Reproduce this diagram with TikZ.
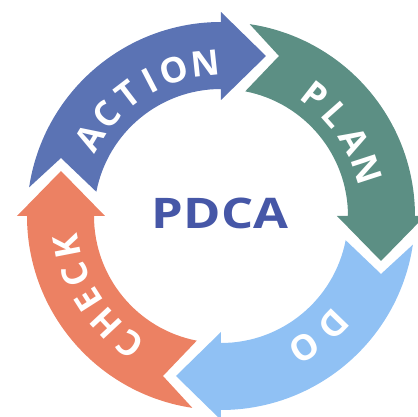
\documentclass[tikz,border=0pt]{standalone}
\usepackage{fontspec}
\setmainfont{Open Sans}
\usepackage{tikz}
\usetikzlibrary{calc}
\definecolor{actionblue}{HTML}{5B73B4}
\definecolor{planteal}{HTML}{5C8F84}
\definecolor{dolight}{HTML}{90C1F4}
\definecolor{checkred}{HTML}{EC8163}
\definecolor{pdcablue}{HTML}{4657A7}
\tikzstyle{ringletter} = [text=white, inner sep=0pt, font=\fontsize{20}{20}\selectfont\bfseries]
\tikzstyle{title} = [text=pdcablue, inner sep=0pt, font=\fontsize{24}{24}\selectfont\bfseries]

\begin{document}
\begin{tikzpicture}
    \useasboundingbox (-4.42,-4.02) rectangle (3.94,4.32);

    % one curved arrow per step, head base at \b, tail tucked behind the previous head
    \foreach \b/\col in {90/actionblue, 0/planteal, -90/dolight, 180/checkred} {
      \fill[\col] (\b+81.5:3.88) arc[start angle=\b+81.5, end angle=\b, radius=3.88]
        -- (\b:4.08) -- ($(\b:3.2)+(\b-90:0.9)$) -- (\b:2.32) -- (\b:2.54)
        arc[start angle=\b, end angle=\b+79, radius=2.54]
        -- ($(\b+90:3.2)+(\b:1.16)$) -- cycle;
    }

    \foreach \ch/\a [count=\i] in {A/149,C/138.5,T/127.5,I/117.5,O/108,N/96}
      \node (action\i) [ringletter, rotate=\a-90] at (\a:3.06) {\ch};

    \foreach \ch/\a [count=\i] in {P/52,L/41.5,A/29.5,N/18}
      \node (plan\i) [ringletter, rotate=\a-90] at (\a:3.06) {\ch};

    \foreach \ch/\a [count=\i] in {D/-44,O/-57.5}
      \node (do\i) [ringletter, rotate=\a-90] at (\a:3.12) {\ch};

    \foreach \ch/\a [count=\i] in {C/234.5,H/223,E/212.5,C/202,K/191}
      \node (check\i) [ringletter, rotate=\a-90] at (\a:3.14) {\ch};

    \node (pdca) [title, xscale=1.2] at (-0.02,0.06) {PDCA};

\end{tikzpicture}
\end{document}
